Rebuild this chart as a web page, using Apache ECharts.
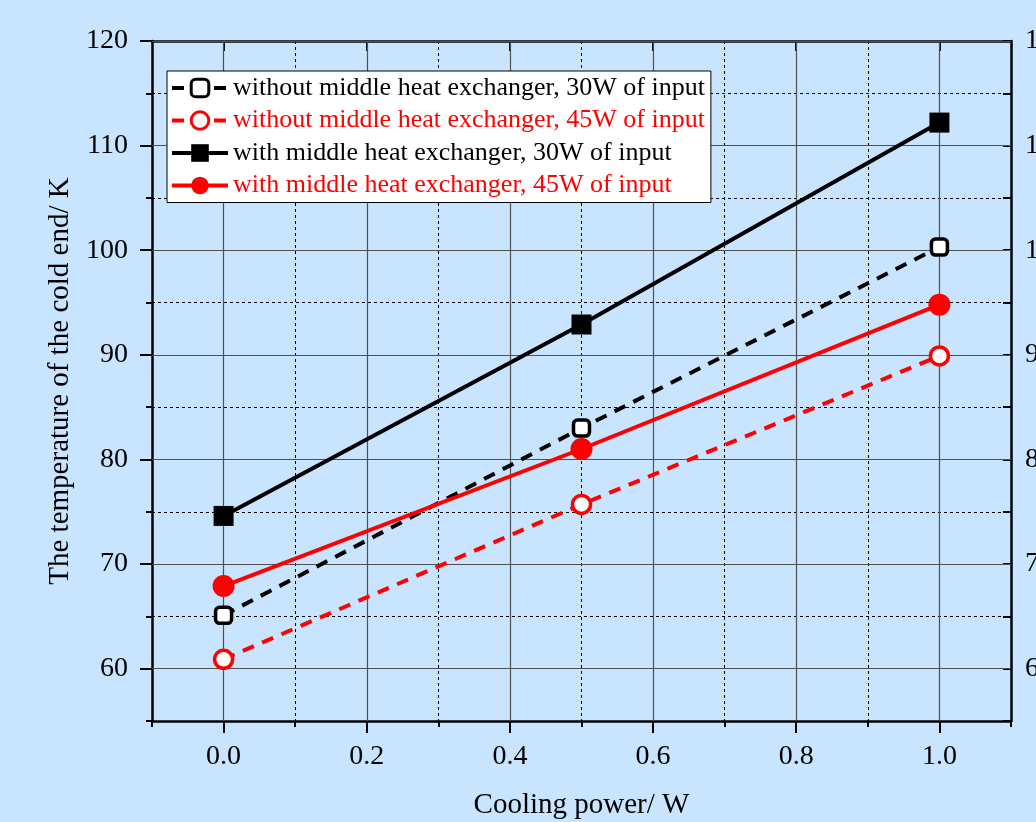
<!DOCTYPE html>
<html>
<head>
<meta charset="utf-8">
<script src="https://cdn.jsdelivr.net/npm/echarts@6/dist/echarts.min.js"></script>
<style>
  html, body { margin: 0; padding: 0; background: #c9e4fe; }
  #chart { width: 1036px; height: 822px; }
</style>
</head>
<body>
<div id="chart"></div>
<script>
// cooling power (W)
var power = [0.0, 0.5, 1.0];
// temperature of the cold end (K)
var noHx30 = [65.1, 83.0, 100.3];
var noHx45 = [60.9, 75.7, 89.9];
var hx30 = [74.6, 92.9, 112.2];
var hx45 = [67.9, 81.0, 94.8];
var names = [
    'without middle heat exchanger, 30W of input',
    'without middle heat exchanger, 45W of input',
    'with middle heat exchanger, 30W of input',
    'with middle heat exchanger, 45W of input'
];
var xMajor = [0, 0.2, 0.4, 0.6, 0.8, 1.0];
var yMajor = [60, 70, 80, 90, 100, 110, 120];

function pts(ys) {
    return power.map(function (x, i) { return [x, ys[i]]; });
}

var chart = echarts.init(document.getElementById('chart'));
var font = 'Liberation Serif, Times New Roman, serif';
var axisLine = { show: true, onZero: false, lineStyle: { color: '#000', width: 2.5 } };
var noLine = { show: false, onZero: false };
var minorGrid = { show: true, lineStyle: { color: '#000', width: 1, type: [3, 3] } };

var option = {
    backgroundColor: '#c9e4fe',
    textStyle: { fontFamily: font },
    animation: false,
    grid: { left: 152, right: 25, top: 41, bottom: 101, containLabel: false, outerBoundsMode: 'none' },
    legend: {
        orient: 'vertical',
        left: 167,
        top: 71,
        backgroundColor: '#fff',
        borderColor: '#000',
        borderWidth: 1,
        borderRadius: 0,
        padding: [4, 6, 4, 3],
        itemGap: 6.5,
        itemWidth: 56,
        itemHeight: 22,
        lineStyle: { width: 4 },
        itemStyle: { borderWidth: 3 },
        textStyle: { fontSize: 26, fontFamily: font, color: '#000' },
        data: [
            { name: names[0], textStyle: { color: '#000' } },
            { name: names[1], textStyle: { color: '#ff0000' } },
            { name: names[2], textStyle: { color: '#000' } },
            { name: names[3], textStyle: { color: '#ff0000' } }
        ]
    },
    xAxis: [
        {   // bottom, minor ticks + dashed grid
            type: 'value', position: 'bottom', min: -0.1, max: 1.1, interval: 0.1,
            axisLine: axisLine,
            axisTick: { show: true, length: 6, lineStyle: { color: '#000', width: 2 } },
            axisLabel: { show: false },
            splitLine: minorGrid
        },
        {   // bottom, major ticks + labels
            type: 'value', position: 'bottom', min: -0.1, max: 1.1, interval: 0.1,
            axisLine: noLine,
            axisTick: { show: true, length: 12, customValues: xMajor, lineStyle: { color: '#000', width: 2 } },
            axisLabel: {
                show: true, customValues: xMajor, fontSize: 28, color: '#000', margin: 22,
                fontFamily: font,
                formatter: function (v) { return v.toFixed(1); }
            },
            splitLine: { show: false },
            name: 'Cooling power/ W',
            nameLocation: 'middle',
            nameGap: 70,
            nameTextStyle: { fontSize: 29, color: '#000', fontFamily: font }
        },
        {   // top frame
            type: 'value', position: 'top', min: -0.1, max: 1.1, interval: 0.1,
            axisLine: axisLine,
            axisTick: { show: true, inside: true, length: 10, customValues: xMajor, lineStyle: { color: '#000', width: 2 } },
            axisLabel: { show: false },
            splitLine: { show: false }
        }
    ],
    yAxis: [
        {   // left, minor ticks + dashed grid
            type: 'value', position: 'left', min: 55, max: 120, interval: 5,
            axisLine: axisLine,
            axisTick: { show: true, length: 6, lineStyle: { color: '#000', width: 2 } },
            axisLabel: { show: false },
            splitLine: minorGrid
        },
        {   // left, major ticks + labels
            type: 'value', position: 'left', min: 55, max: 120, interval: 5,
            axisLine: noLine,
            axisTick: { show: true, length: 12, customValues: yMajor, lineStyle: { color: '#000', width: 2 } },
            axisLabel: {
                show: true, customValues: yMajor, fontSize: 28, color: '#000', margin: 24,
                fontFamily: font
            },
            splitLine: { show: false },
            name: 'The temperature of the cold end/ K',
            nameLocation: 'middle',
            nameGap: 72,
            nameTextStyle: { fontSize: 29, color: '#000', fontFamily: font }
        },
        {   // right frame
            type: 'value', position: 'right', min: 55, max: 120, interval: 5,
            axisLine: axisLine,
            axisTick: { show: true, inside: true, length: 8, lineStyle: { color: '#000', width: 2 } },
            axisLabel: {
                show: true, customValues: yMajor, fontSize: 28, color: '#000', margin: 14,
                fontFamily: font
            },
            splitLine: { show: false }
        }
    ],
    series: [
        {   // solid major grid lines
            type: 'line', data: [], z: 1, silent: true,
            markLine: {
                silent: true, symbol: 'none', z: 1,
                label: { show: false },
                lineStyle: { color: '#505050', width: 1.2, type: 'solid' },
                emphasis: { disabled: true },
                data: xMajor.map(function (v) { return { xAxis: v }; })
                    .concat(yMajor.map(function (v) { return { yAxis: v }; }))
            }
        },
        {
            name: names[0], type: 'line', data: pts(noHx30), z: 3,
            symbol: 'roundRect', symbolSize: 16,
            lineStyle: { color: '#000', width: 4, type: [12, 9] },
            itemStyle: { color: '#fff', borderColor: '#000', borderWidth: 3.5 }
        },
        {
            name: names[1], type: 'line', data: pts(noHx45), z: 3,
            symbol: 'circle', symbolSize: 18,
            lineStyle: { color: '#ff0000', width: 4, type: [12, 9] },
            itemStyle: { color: '#fff', borderColor: '#ff0000', borderWidth: 3.5 }
        },
        {
            name: names[2], type: 'line', data: pts(hx30), z: 3,
            symbol: 'rect', symbolSize: 20,
            lineStyle: { color: '#000', width: 4 },
            itemStyle: { color: '#000' }
        },
        {
            name: names[3], type: 'line', data: pts(hx45), z: 3,
            symbol: 'circle', symbolSize: 22,
            lineStyle: { color: '#ff0000', width: 4 },
            itemStyle: { color: '#ff0000' }
        }
    ]
};
chart.setOption(option);
</script>
</body>
</html>
